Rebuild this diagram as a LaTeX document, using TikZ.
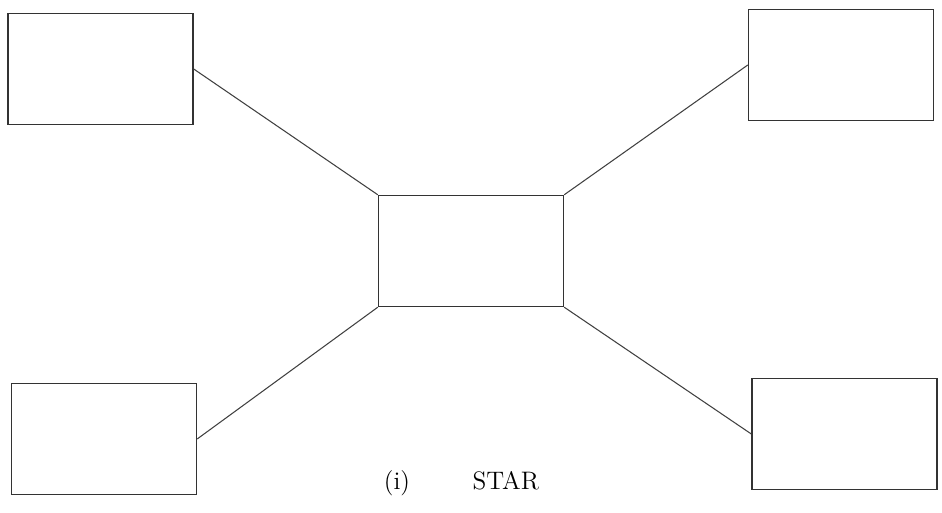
\documentclass[tikz,border=0pt]{standalone}
\usepackage{tikz}
\usetikzlibrary{positioning}

\begin{document}
\begin{tikzpicture}[
    x=1cm, y=1cm,
    station/.style={
      draw=black!80,
      line width=0.8pt,
      minimum width=3.7cm,
      minimum height=2.22cm,
      inner sep=0pt
    },
    link/.style={draw=black!75, line width=0.6pt}
  ]
    \useasboundingbox (0,0) rectangle (18.84,10.26);

    \node[station] (hub) at (9.42, 5.24) {};
    \node[station] (tl) at (2.01, 8.88) {};
    \node[station] (tr) at (16.82, 8.96) {};
    \node[station] (bl) at (2.08, 1.48) {};
    \node[station] (br) at (16.89, 1.58) {};

    \draw[link] (tl.east) -- (hub.north west);
    \draw[link] (tr.west) -- (hub.north east);
    \draw[link] (bl.east) -- (hub.south west);
    \draw[link] (br.west) -- (hub.south east);

    \node[font=\Large] (cap) at (9.23, 0.6) {(i)\hspace{1.25cm}STAR};
  \end{tikzpicture}
\end{document}
